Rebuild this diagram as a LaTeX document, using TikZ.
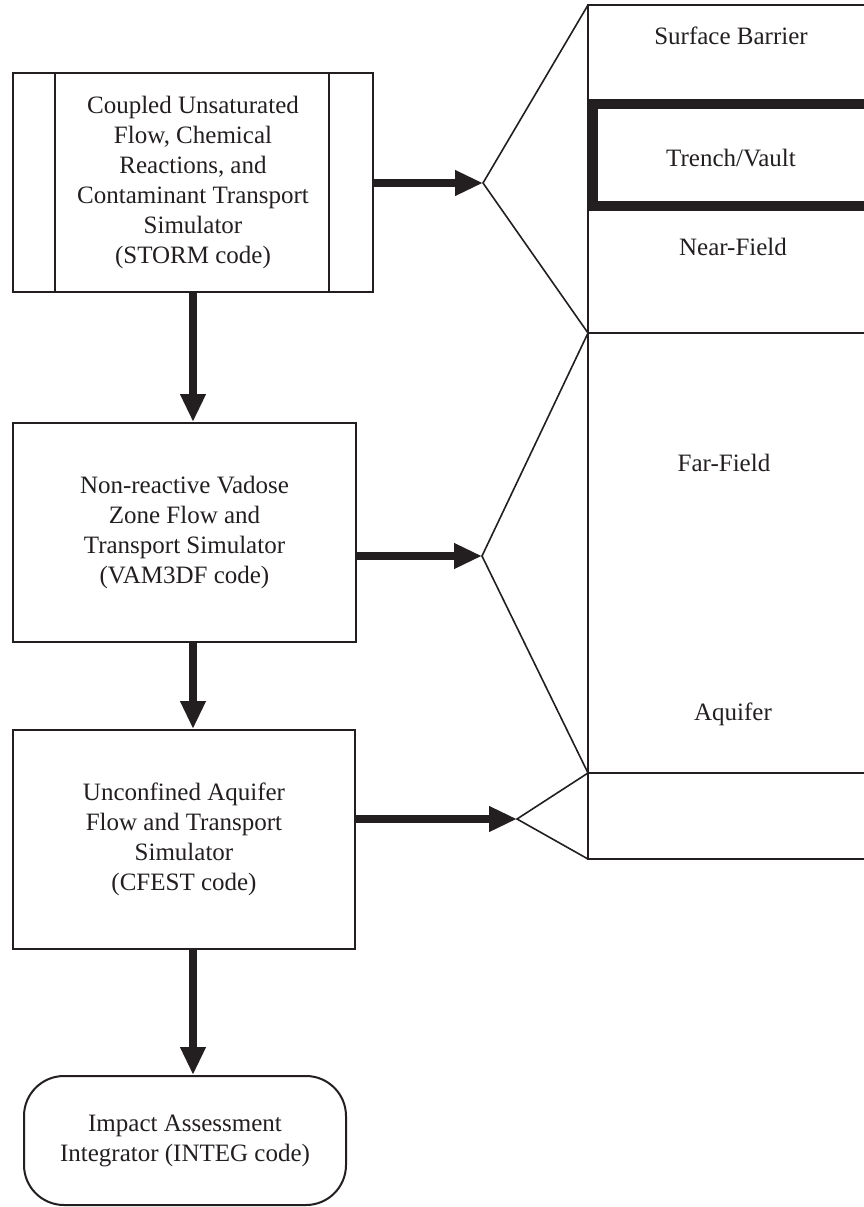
\documentclass[tikz,border=0pt]{standalone}
\usepackage{fontspec}
\setmainfont{Liberation Serif}
\usetikzlibrary{arrows.meta}
\definecolor{ink}{HTML}{231F20}
\begin{document}
\begin{tikzpicture}[x=1pt,y=-1pt,
  every node/.style={text=ink,font=\fontsize{25}{30}\selectfont,align=center,inner sep=0pt},
  box/.style={draw=ink,line width=2pt,minimum width=#1,anchor=center},
  flow/.style={draw=ink,line width=8pt,-{Triangle[length=28pt,width=24pt]}},
  zone/.style={draw=ink,line width=2pt},
  fan/.style={draw=ink,line width=1.6pt,line join=miter}]
\clip (0,0) rectangle (864,1207);
\fill[white] (0,0) rectangle (864,1207);

% model boxes on the left
\node[box=360pt,minimum height=219pt] (b1) at (193,182.5) {Coupled Unsaturated\\Flow, Chemical\\Reactions, and\\Contaminant Transport\\Simulator\\(STORM code)};
\draw[ink,line width=2pt] (b1.north west) ++(43,0) -- ++(0,219);
\draw[ink,line width=2pt] (b1.north east) ++(-45,0) -- ++(0,219);

\node[box=343pt,minimum height=219pt] (b2) at (184.5,532.5) {Non-reactive Vadose\\Zone Flow and\\Transport Simulator\\(VAM3DF code)};
\node[box=342pt,minimum height=219pt] (b3) at (184,839.5) {Unconfined Aquifer\\Flow and Transport\\Simulator\\(CFEST code)};
\node[box=322pt,minimum height=129pt,rounded corners=40pt] (b4) at (185,1140.5) {Impact Assessment\\Integrator (INTEG code)};

% zones on the right
\draw[zone] (588,5) rectangle (880,333);
\draw[zone] (588,333) rectangle (880,773);
\draw[zone] (588,773) rectangle (880,859);
\draw[draw=ink,line width=10pt] (593,104) rectangle (885,206);

\node (sb) at (731,36) {Surface Barrier};
\node (tv) at (731,158) {Trench/Vault};
\node (nf) at (733,247) {Near-Field};
\node (ff) at (724,463) {Far-Field};
\node (aq) at (733,714) {Aquifer};

% fan points and zone corners
\coordinate (f1) at (483,183);
\coordinate (f2) at (482,556);
\coordinate (f3) at (517,819);
\coordinate (c1) at (588,5);
\coordinate (c2) at (588,333);
\coordinate (c3) at (588,773);
\coordinate (c4) at (588,859);

\draw[fan] (c1) -- (f1) -- (c2);
\draw[fan] (c2) -- (f2) -- (c3);
\draw[fan] (c3) -- (f3) -- (c4);

% data flow
\draw[flow] (b1.east |- f1) -- (f1);
\draw[flow] (b2.east |- f2) -- (f2);
\draw[flow] (b3.east |- f3) -- (f3);
\draw[flow] (b1.south) -- (b1.south |- b2.north);
\draw[flow] (b1.south |- b2.south) -- (b1.south |- b3.north);
\draw[flow] (b1.south |- b3.south) -- (b1.south |- b4.north);
\end{tikzpicture}
\end{document}
